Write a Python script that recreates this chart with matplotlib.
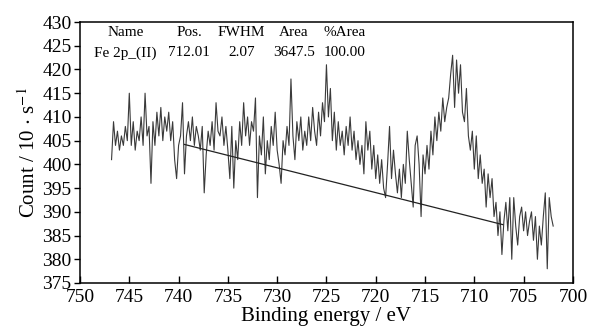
import numpy as np
import matplotlib
matplotlib.use("Agg")
import matplotlib.pyplot as plt

plt.rcParams["font.family"] = ["Liberation Serif", "DejaVu Serif"]
plt.rcParams["mathtext.fontset"] = "stix"

# -------------------------------------------------------------------
# Data (binding energy grid 746.8 -> 702.0 eV, 0.2 eV step)
# -------------------------------------------------------------------
start_ev = 746.8
step_ev = 0.2
counts = [
    401, 409, 404, 407, 403, 406, 404, 408, 405, 415,
    404, 409, 403, 407, 405, 410, 404, 415, 406, 408,
    396, 409, 404, 411, 406, 412, 405, 410, 407, 411,
    405, 409, 401, 397, 404, 406, 413, 398, 406, 409,
    405, 410, 404, 408, 406, 403, 408, 394, 402, 407,
    404, 409, 403, 413, 407, 406, 410, 404, 408, 403,
    397, 408, 395, 405, 401, 409, 404, 413, 406, 410,
    404, 409, 407, 414, 393, 406, 402, 410, 398, 405,
    401, 408, 404, 411, 403, 400, 396, 405, 402, 408,
    404, 418, 406, 401, 409, 405, 410, 403, 407, 404,
    410, 405, 412, 407, 404, 411, 406, 413, 409, 421,
    410, 416, 405, 411, 403, 409, 404, 407, 402, 408,
    404, 410, 403, 407, 401, 405, 400, 404, 398, 409,
    403, 407, 399, 404, 397, 402, 396, 401, 395, 393,
    400, 408, 397, 403, 398, 394, 399, 393, 400, 396,
    407, 401, 396, 391, 404, 406, 400, 389, 402, 398,
    404, 399, 407, 402, 410, 405, 411, 407, 414, 409,
    412, 414, 419, 423, 412, 422, 415, 421, 411, 409,
    416, 406, 403, 407, 399, 406, 397, 402, 396, 399,
    391, 398, 393, 397, 389, 392, 385, 390, 381, 388,
    392, 386, 393, 380, 393, 387, 383, 389, 391, 386,
    390, 385, 388, 390, 384, 389, 380, 387, 383, 389,
    394, 378, 393, 389, 387,
]
energy = start_ev - step_ev * np.arange(len(counts))

# background drawn as a straight line under the peak
bg_energy = [739.4, 707.1]
bg_counts = [404.2, 387.3]

table_cols = ["Name", "Pos.", "FWHM", "Area", "%Area"]
table_vals = ["Fe 2p_(II)", "712.01", "2.07", "3647.5", "100.00"]
table_x = [745.4, 738.9, 733.6, 728.3, 723.2]

# -------------------------------------------------------------------
# Plot
# -------------------------------------------------------------------
fig = plt.figure(figsize=(5.9, 3.34), dpi=100)
ax = fig.add_axes([0.1356, 0.1527, 0.8354, 0.7813])

ax.plot(energy, counts, color="#3a3a3a", linewidth=0.8)
ax.plot(bg_energy, bg_counts, color="#222222", linewidth=0.9)

for x, c, v in zip(table_x, table_cols, table_vals):
    ax.text(x, 427.7, c, ha="center", va="center", fontsize=11)
    ax.text(x, 423.5, v, ha="center", va="center", fontsize=11)

ax.set_xlim(750, 700)
ax.set_ylim(375, 430)
ax.set_xticks(np.arange(750, 699, -5))
ax.set_yticks(np.arange(375, 431, 5))
ax.tick_params(axis="x", direction="in", length=5, width=1, labelsize=14, pad=4)
ax.tick_params(axis="y", direction="out", length=4, width=1, labelsize=14, pad=2)
for s in ax.spines.values():
    s.set_linewidth(1.1)

ax.set_xlabel("Binding energy / eV", fontsize=15, labelpad=1)
ax.set_ylabel(r"Count / 10 $\cdot$ s$^{-1}$", fontsize=15, labelpad=2)

fig.savefig("out.png", dpi=100)
